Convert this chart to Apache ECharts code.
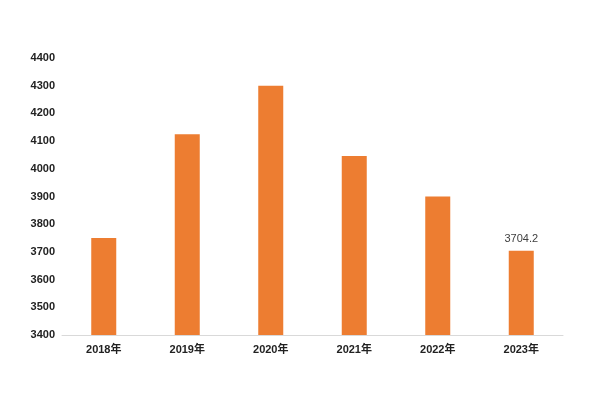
<!DOCTYPE html>
<html><head><meta charset="utf-8">
<script src="https://cdn.jsdelivr.net/npm/echarts@6/dist/echarts.min.js"></script>
<style>html,body{margin:0;padding:0;background:#fff}#c{width:600px;height:400px}</style>
</head><body><div id="c"></div>
<script>
var categories = ['2018年','2019年','2020年','2021年','2022年','2023年'];
var values = [3750, 4125, 4300, 4046, 3900, 3704.2];
var labelled = [false, false, false, false, false, true];

var chart = echarts.init(document.getElementById('c'), null, {renderer:'canvas'});
chart.setOption({
  animation:false,
  backgroundColor:'#fff',
  grid:{left:62,right:37,top:58,bottom:65},
  xAxis:{type:'category',data:categories,
    axisLine:{lineStyle:{color:'#d9d9d9'}},axisTick:{show:false},
    axisLabel:{color:'#222',fontSize:11,fontWeight:'bold',fontFamily:'Liberation Sans, Arial, Noto Sans CJK SC',margin:9}},
  yAxis:{type:'value',min:3400,max:4400,interval:100,
    axisLine:{show:false},axisTick:{show:false},splitLine:{show:false},
    axisLabel:{color:'#222',fontSize:11,fontWeight:'bold',fontFamily:'Liberation Sans, Arial',margin:7,
      formatter:function(v){return String(v);}}},
  series:[{type:'bar',barWidth:25,
    data:values.map(function(v,i){return {value:v,label:{show:labelled[i]}};}),
    itemStyle:{color:'#ED7D31'},
    label:{position:'top',color:'#404040',fontSize:11,fontFamily:'Liberation Sans, Arial',distance:6}}]
});
</script></body></html>
